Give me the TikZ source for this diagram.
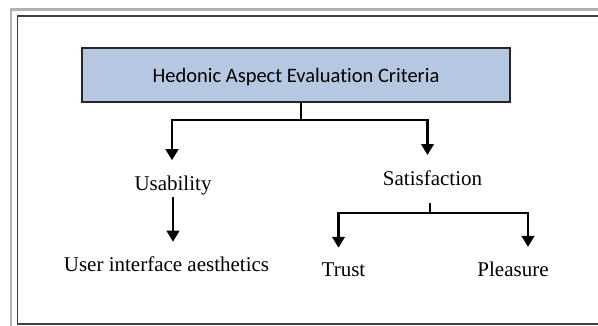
\documentclass[tikz,border=0pt]{standalone}
\usepackage{fontspec}
\setmainfont{Liberation Serif}
\newfontfamily\calibrifont[Ligatures=NoCommon]{Carlito}
\usepackage{tikz}
\usetikzlibrary{arrows.meta}

\definecolor{critblue}{HTML}{B6C8E1}

\tikzset{
  crit/.style={draw=black!85, line width=1.3pt, fill=critblue,
    minimum width=428pt, minimum height=54pt, text depth=0pt,
    font=\calibrifont\fontsize{20.5}{24}\selectfont},
  item/.style={anchor=base, inner sep=2pt, font=\fontsize{21}{25}\selectfont},
  link/.style={line width=2.5pt},
  arr/.style={link, shorten >=13pt, -{Triangle[width=12.5pt,length=11pt]}}
}

\begin{document}
\begin{tikzpicture}[x=1pt,y=-1pt]
\clip (0,0) rectangle (598,325);
\fill[white] (0,0) rectangle (598,325);
\draw[black!30, line width=2.6pt] (10.8,9.7) rectangle (630,360);
\draw[black!75, line width=1.8pt] (17.5,15.8) rectangle (620,323.8);
%
\node[crit] (hedonic) at (296,75) {Hedonic Aspect Evaluation Criteria};
\node[item] (usab) at (173,190) {Usability};
\node[item] (sat) at (432.5,185) {Satisfaction};
\node[item] (uia) at (166.5,271.7) {User interface aesthetics};
\node[item] (trust) at (343.5,276.7) {Trust};
\node[item] (pleas) at (513,276.7) {Pleasure};
%
\coordinate (split) at (301,120);
\coordinate (fork) at (430,213);
%
\draw[link] (hedonic.south -| split) -- (split);
\draw[arr] (split) -| ([xshift=-1pt]usab.north);
\draw[arr] (split) -| ([xshift=-5pt]sat.north);
\draw[arr] (usab.south) -- (usab.south |- uia.north);
\draw[link, shorten <=16pt] ([xshift=-2.5pt]sat.south) -- (fork);
\draw[arr] (fork) -| ([xshift=-5pt]trust.north);
\draw[arr] (fork) -| ([xshift=15pt]pleas.north);
\end{tikzpicture}
\end{document}
